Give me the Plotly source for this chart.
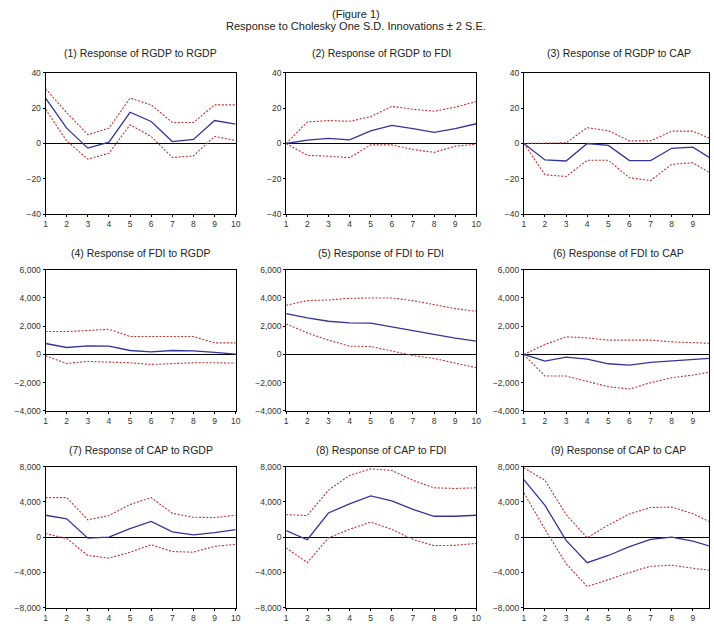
import plotly.graph_objects as go

W, H = 714, 630

periods = [1, 2, 3, 4, 5, 6, 7, 8, 9, 10]

titles = [
    "(1) Response of RGDP to RGDP", "(2) Response of RGDP to FDI", "(3) Response of RGDP to CAP",
    "(4) Response of FDI to RGDP", "(5) Response of FDI to FDI", "(6) Response of FDI to CAP",
    "(7) Response of CAP to RGDP", "(8) Response of CAP to FDI", "(9) Response of CAP to CAP",
]

# (1) RGDP to RGDP
resp1 = [25.7, 8.7, -2.6, 0.8, 17.7, 12.5, 1.1, 2.3, 13.0, 11.0]
up1 = [31.0, 17.5, 5.0, 8.7, 25.7, 21.9, 11.9, 11.9, 21.9, 21.9]
lo1 = [19.4, 1.5, -8.9, -5.5, 10.6, 4.0, -7.9, -7.0, 4.0, 1.7]
# (2) RGDP to FDI
resp2 = [0.0, 1.9, 2.9, 2.1, 7.2, 10.3, 8.4, 6.3, 8.4, 11.2]
up2 = [0.0, 12.2, 13.0, 12.6, 15.2, 21.0, 19.4, 18.3, 20.6, 23.8]
lo2 = [0.0, -6.7, -7.2, -8.0, -0.8, -0.8, -3.4, -5.0, -1.5, -0.4]
# (3) RGDP to CAP
resp3 = [0.0, -9.3, -9.9, 0.0, -1.1, -9.7, -9.7, -2.7, -2.1, -9.5]
up3 = [0.0, 0.4, 0.4, 9.0, 7.2, 1.5, 1.5, 7.0, 7.0, 2.0]
lo3 = [0.0, -17.7, -18.7, -9.5, -9.5, -19.4, -21.0, -11.8, -10.9, -18.0]
# (4) FDI to RGDP
resp4 = [776, 494, 612, 588, 282, 188, 282, 259, 141, 30]
up4 = [1624, 1624, 1694, 1788, 1270, 1270, 1270, 1270, 823, 823]
lo4 = [-94, -635, -494, -518, -588, -706, -635, -588, -588, -612]
# (5) FDI to FDI
resp5 = [2894, 2588, 2353, 2235, 2212, 1953, 1694, 1388, 1153, 941]
up5 = [3482, 3812, 3859, 3976, 4000, 4000, 3812, 3529, 3247, 3059]
lo5 = [2165, 1529, 1012, 588, 565, 235, -70, -282, -635, -941]
# (6) FDI to CAP
resp6 = [0, -470, -188, -330, -659, -753, -565, -470, -376, -250]
up6 = [0, 706, 1247, 1176, 1012, 1012, 1012, 894, 847, 776]
lo6 = [0, -1529, -1529, -1929, -2282, -2447, -2000, -1647, -1459, -1200]
# (7) CAP to RGDP
resp7 = [2481, 2074, -111, 0, 963, 1778, 593, 259, 519, 852]
up7 = [4481, 4481, 1963, 2444, 3704, 4481, 2704, 2259, 2222, 2481]
lo7 = [407, -148, -2074, -2370, -1704, -852, -1630, -1704, -1037, -815]
# (8) CAP to FDI
resp8 = [741, -296, 2741, 3778, 4667, 4111, 3148, 2370, 2370, 2481]
up8 = [2556, 2444, 5333, 7000, 7741, 7556, 6444, 5593, 5519, 5593]
lo8 = [-1222, -2889, -74, 889, 1704, 889, -259, -963, -926, -704]
# (9) CAP to CAP
resp9 = [6519, 3593, -370, -2889, -2074, -1074, -259, 0, -444, -1150]
up9 = [7852, 6444, 2556, -74, 1370, 2630, 3370, 3407, 2667, 1500]
lo9 = [5037, 889, -3000, -5593, -4815, -4000, -3296, -3185, -3519, -3800]

responses = [resp1, resp2, resp3, resp4, resp5, resp6, resp7, resp8, resp9]
uppers = [up1, up2, up3, up4, up5, up6, up7, up8, up9]
lowers = [lo1, lo2, lo3, lo4, lo5, lo6, lo7, lo8, lo9]

row_ticks = [
    [-40, -20, 0, 20, 40],
    [-4000, -2000, 0, 2000, 4000, 6000],
    [-8000, -4000, 0, 4000, 8000],
]
row_ranges = [[-40, 40], [-4000, 6000], [-8000, 8000]]

# pixel layout
col_left = [44, 287, 527]
panel_w = 192
row_top = [69, 269, 469]
panel_h = 143.5
title_y = [49, 252, 452]

BLUE = "#34349a"
RED = "#c03434"
FONT = "Liberation Sans, Arial, sans-serif"

fig = go.Figure()
annotations = []

for i in range(9):
    r, c = divmod(i, 3)
    k = i + 1
    xa = "x" if k == 1 else f"x{k}"
    ya = "y" if k == 1 else f"y{k}"
    for vals, color, dash, wdt in [
        (uppers[i], RED, "2px,1.6px", 1.1),
        (lowers[i], RED, "2px,1.6px", 1.1),
        (responses[i], BLUE, "solid", 1.3),
    ]:
        fig.add_trace(go.Scatter(
            x=periods, y=vals, mode="lines", xaxis=xa, yaxis=ya,
            line=dict(color=color, dash=dash, width=wdt),
            showlegend=False, hoverinfo="x+y",
        ))
    x0 = col_left[c]
    x1 = min(x0 + panel_w, W)
    xmax = 1 + 9 * (x1 - x0) / panel_w
    y0 = row_top[r]
    y1 = y0 + panel_h
    dom_x = [x0 / W, x1 / W]
    dom_y = [1 - y1 / H, 1 - y0 / H]
    fmt = "," if r > 0 else ""
    fig.layout[f"xaxis{'' if k == 1 else k}"] = dict(
        domain=dom_x, range=[1, xmax], anchor=ya,
        tickmode="array", tickvals=periods, ticktext=[str(p) for p in periods],
        ticks="outside", ticklen=2, tickcolor="black",
        showline=True, linecolor="black", linewidth=1, mirror=True,
        showgrid=False, zeroline=False,
        tickfont=dict(family=FONT, size=8.5, color="#333333"),
        fixedrange=True,
    )
    fig.layout[f"yaxis{'' if k == 1 else k}"] = dict(
        domain=dom_y, range=row_ranges[r], anchor=xa,
        tickmode="array", tickvals=row_ticks[r], tickformat=fmt,
        ticks="outside", ticklen=2, tickcolor="black",
        showline=True, linecolor="black", linewidth=1, mirror=True,
        showgrid=False, zeroline=True, zerolinecolor="black", zerolinewidth=1,
        tickfont=dict(family=FONT, size=8.5, color="#333333"),
        fixedrange=True,
    )
    annotations.append(dict(
        text=titles[i], xref="paper", yref="paper",
        x=(x0 + panel_w / 2) / W, y=1 - title_y[r] / H,
        xanchor="center", yanchor="middle", showarrow=False,
        font=dict(family=FONT, size=10.5, color="#222222"),
    ))

annotations.append(dict(
    text="(Figure 1)", xref="paper", yref="paper", x=357 / W, y=1 - 9 / H,
    xanchor="center", yanchor="middle", showarrow=False,
    font=dict(family=FONT, size=11, color="#222222"),
))
annotations.append(dict(
    text="Response to Cholesky One S.D. Innovations \u00b1 2 S.E.", xref="paper", yref="paper",
    x=357 / W, y=1 - 21 / H, xanchor="center", yanchor="middle", showarrow=False,
    font=dict(family=FONT, size=11, color="#222222"),
))

fig.update_layout(
    width=W, height=H,
    margin=dict(l=0, r=0, t=0, b=0),
    paper_bgcolor="white", plot_bgcolor="white",
    annotations=annotations,
    showlegend=False,
)

fig.write_html(
    "out.html",
    config={"displayModeBar": False},
    post_script="document.body.style.margin='0';document.body.style.overflow='hidden';",
)
